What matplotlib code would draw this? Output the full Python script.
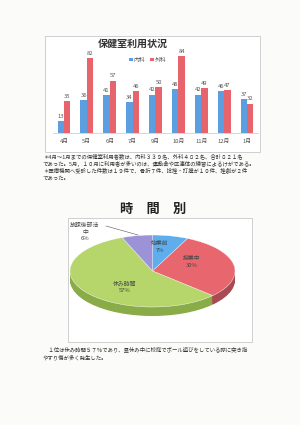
import matplotlib
matplotlib.use("Agg")
import matplotlib.pyplot as plt
from matplotlib.patches import Rectangle

plt.rcParams['font.family'] = ['Noto Sans CJK JP', 'DejaVu Sans']

months = ["4月", "5月", "6月", "7月", "9月", "10月", "11月", "12月", "1月"]
naika = [13, 36, 41, 34, 42, 48, 42, 46, 37]
geka = [35, 82, 57, 46, 50, 84, 49, 47, 32]
series_names = ["内科", "外科"]

pie_labels = ["始業前", "授業中", "休み時間", "放課後部活\n中"]
pie_values = [7, 30, 57, 6]

note1 = ["＊4月～1月までの保健室利用者数は、内科３３９名、外科４８２名、合計８２１名",
         "であった。5月，１０月に利用者が多いのは、運動会や区連体の練習によるけがである。",
         "＊医療機関へ受診した件数は１９件で、骨折７件、捻挫・打撲が１０件、挫創が２件",
         "であった。"]
note2 = ["　１位は休み時間５７％であり、昼休み中に校庭でボール遊びをしている際に突き指",
         "やすり傷が多く発生した。"]

W, H = 300, 425
fig = plt.figure(figsize=(3.0, 4.25), dpi=100)
fig.patch.set_facecolor("#fbfbfa")

def fx(px):
    return px / W

def fy(py):
    return 1 - py / H

def add_box(x0, y0, x1, y1):
    fig.patches.append(Rectangle((fx(x0), fy(y1)), fx(x1) - fx(x0), fy(y0) - fy(y1),
                                 transform=fig.transFigure, fill=True, facecolor="white",
                                 edgecolor="#c8c8c8", linewidth=0.6, zorder=-5))

# ---------- bar chart ----------
add_box(45, 36, 260, 152)
blue = "#5b9fe0"
red = "#e8646d"
ax = fig.add_axes([fx(52.6), fy(133), fx(258.4) - fx(52.6), fy(50.5) - fy(133)])
ax.set_facecolor("none")
xs = list(range(len(months)))
bw = 0.28
b1 = ax.bar([x - bw / 2 for x in xs], naika, width=bw, color=blue, label=series_names[0])
b2 = ax.bar([x + bw / 2 for x in xs], geka, width=bw, color=red, label=series_names[1])
for bars, vals in ((b1, naika), (b2, geka)):
    for r, v in zip(bars, vals):
        ax.text(r.get_x() + r.get_width() / 2, v + 2.5, str(v), ha="center", va="bottom",
                fontsize=4.2, color="#555555")
ax.set_xlim(-0.5, len(months) - 0.5)
ax.set_ylim(0, 90)
ax.set_xticks(xs)
ax.set_xticklabels(months, fontsize=4.2, color="#555555")
ax.tick_params(axis="x", length=0, pad=4)
ax.set_yticks([])
for s in ["top", "right", "left"]:
    ax.spines[s].set_visible(False)
ax.spines["bottom"].set_color("#d0d0d0")
ax.spines["bottom"].set_linewidth(0.6)
fig.text(fx(133), fy(44), "保健室利用状況", ha="center", va="center", fontsize=7.2,
         fontweight="bold", color="#333333")
fig.legend(handles=[b1, b2], labels=series_names, loc="center", bbox_to_anchor=(fx(148), fy(60)),
           ncol=2, frameon=False, fontsize=4.2, handlelength=0.6, handleheight=0.6,
           handletextpad=0.2, columnspacing=0.8, labelcolor="#555555")

# ---------- notes ----------
for i, line in enumerate(note1):
    fig.text(fx(43), fy(156 + i * 7.3), line, ha="left", va="center", fontsize=3.9, color="#333333")

# ---------- pie chart ----------
fig.text(fx(153), fy(209), "時　間　別", ha="center", va="center", fontsize=9.5,
         fontweight="bold", color="#222222")
add_box(68, 218, 252, 342)
cx, cy, rx, ry = 152.5, 271, 82.5, 36
pax = fig.add_axes([fx(68), fy(342), fx(252) - fx(68), fy(218) - fy(342)])
pax.set_facecolor("none")
top_colors = ["#5eaeee", "#e8676f", "#b6d66c", "#9c92d8"]
side_colors = ["#3f86c4", "#a94a52", "#8aac48", "#7468b0"]
depth = 0.25
n = 12
for k in range(n, 0, -1):
    pax.pie(pie_values, colors=side_colors, startangle=90, counterclock=False,
            center=(0, -depth * k / n), radius=1, wedgeprops=dict(linewidth=0))
wedges, _ = pax.pie(pie_values, colors=top_colors, startangle=90, counterclock=False,
                    center=(0, 0), radius=1, wedgeprops=dict(linewidth=0.3, edgecolor="white"))
pax.set_aspect("auto")
pax.set_xlim((68 - cx) / rx, (252 - cx) / rx)
pax.set_ylim((cy - 342) / ry, (cy - 218) / ry)
pax.axis("off")

def dx(px):
    return (px - cx) / rx

def dy(py):
    return (cy - py) / ry

label_pos = [(160, 247), (192, 262), (125, 287), (85, 232)]
for lab, val, (px, py) in zip(pie_labels, pie_values, label_pos):
    pax.text(dx(px), dy(py), f"{lab}\n{val}%", ha="center", va="center", fontsize=4.2,
             color="#444444", linespacing=1.3)
pax.plot([dx(106), dx(138)], [dy(226), dy(235)], color="#555555", linewidth=0.4)

for i, line in enumerate(note2):
    fig.text(fx(43), fy(349 + i * 8.5), line, ha="left", va="center", fontsize=3.9, color="#333333")

fig.savefig("out.png", dpi=100, facecolor=fig.get_facecolor())
